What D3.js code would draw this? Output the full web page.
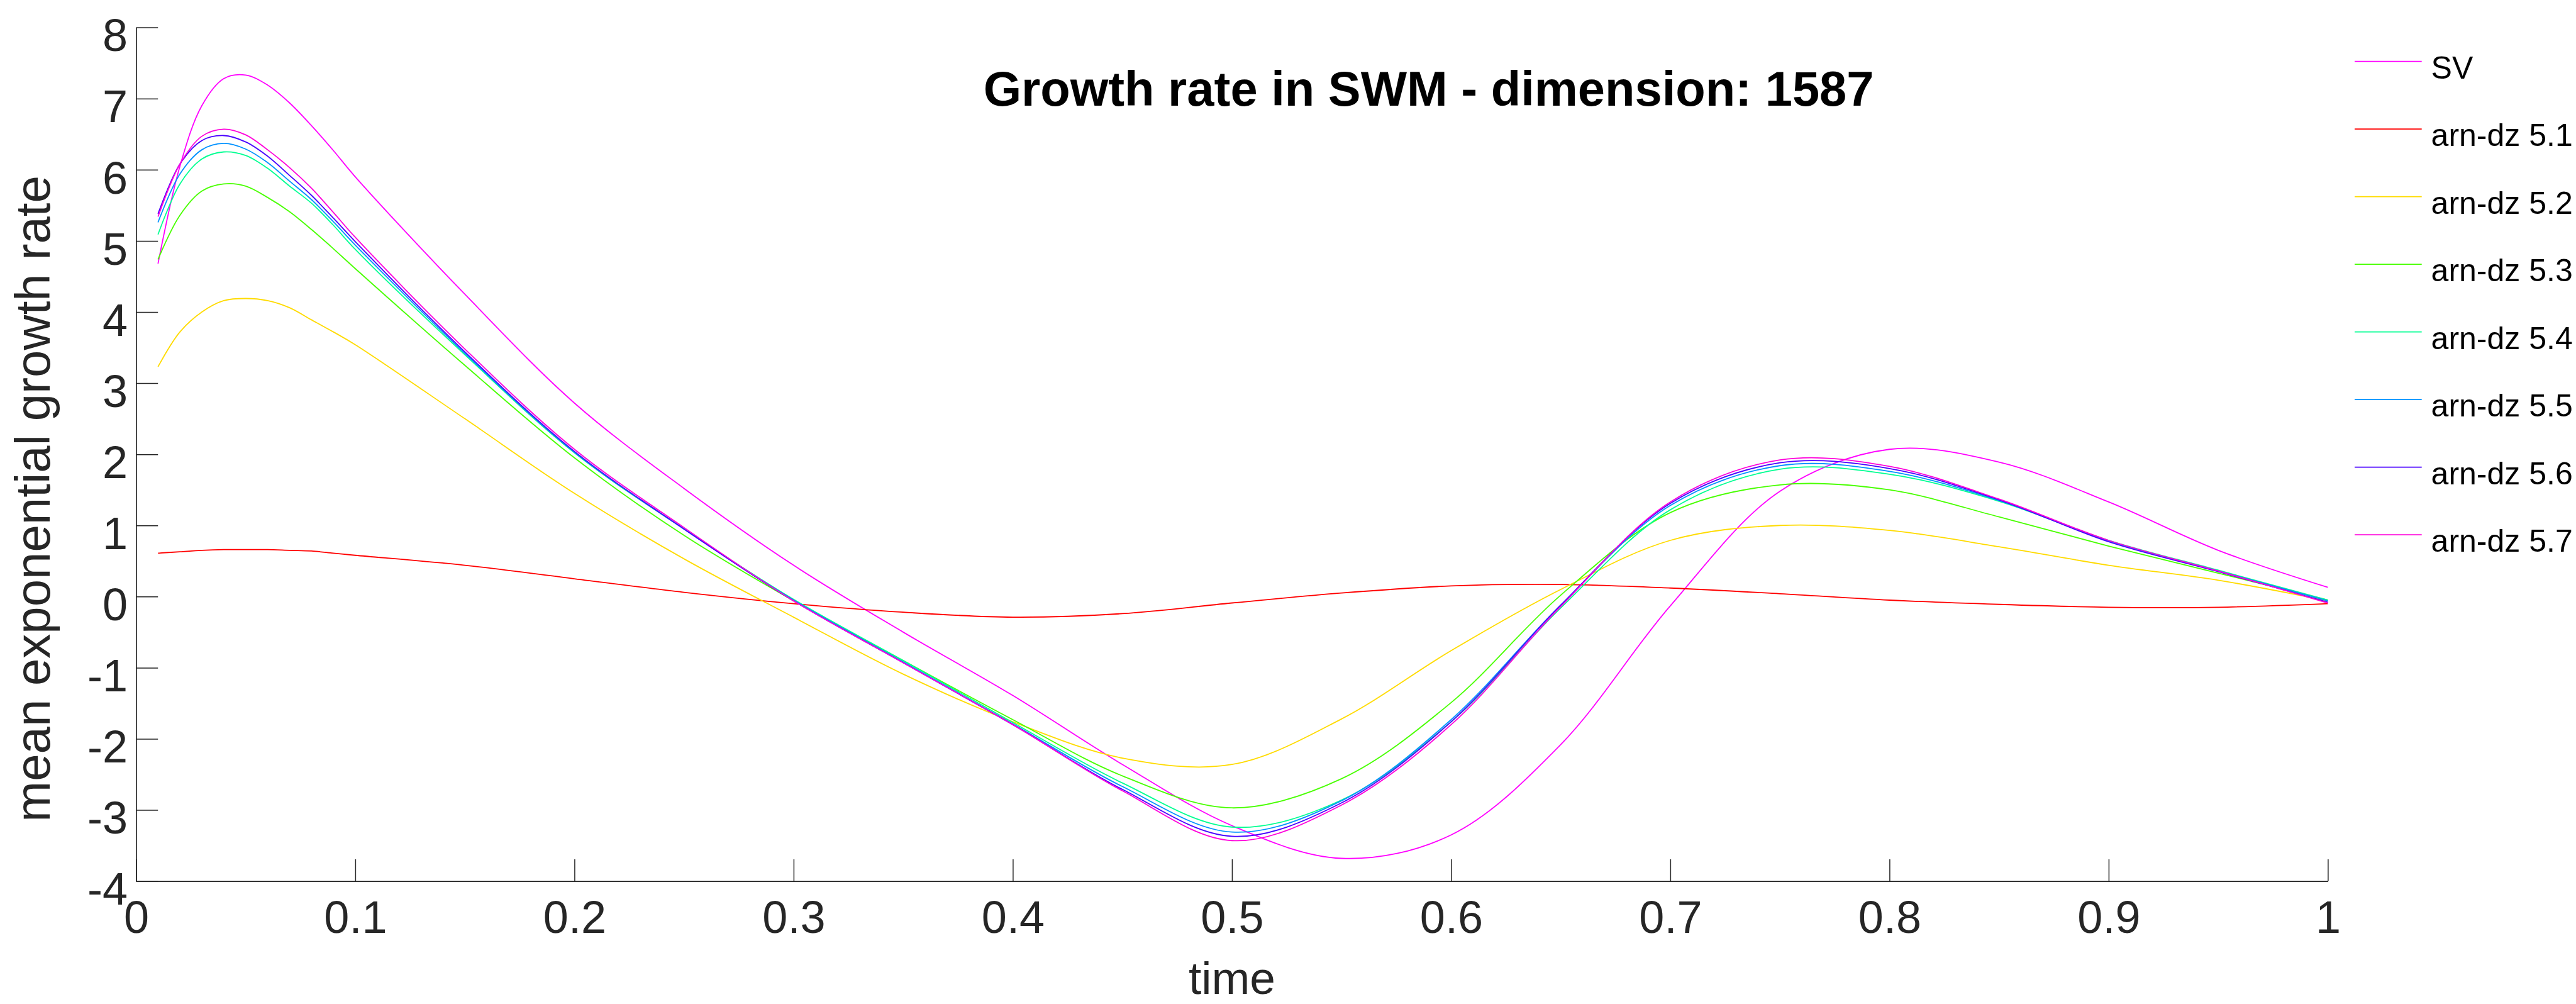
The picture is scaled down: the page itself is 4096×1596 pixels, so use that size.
<!DOCTYPE html>
<html>
<head>
<meta charset="utf-8">
<script src="https://cdn.jsdelivr.net/npm/d3@7"></script>
<style>
  body { margin: 0; background: #fff; }
  text { font-family: "Liberation Sans", Arial, Helvetica, sans-serif; }
</style>
</head>
<body>
<svg id="chart" width="4096" height="1596"></svg>
<script>
// values
var time = [0.01, 0.02, 0.03, 0.04, 0.05, 0.06, 0.07, 0.08, 0.09, 0.10,
            0.15, 0.20, 0.25, 0.30, 0.35, 0.40, 0.45, 0.50, 0.55, 0.60,
            0.65, 0.70, 0.75, 0.80, 0.85, 0.90, 0.95, 1.00];

var sv   = [4.68, 6.05, 6.90, 7.28, 7.33, 7.19, 6.94, 6.62, 6.27, 5.90, 4.25, 2.72, 1.52, 0.44, -0.50, -1.39, -2.36, -3.22, -3.68, -3.35, -2.08, -0.13, 1.48, 2.07, 1.89, 1.33, 0.65, 0.13];
var dz51 = [0.61, 0.63, 0.65, 0.66, 0.66, 0.66, 0.65, 0.64, 0.61, 0.58, 0.44, 0.25, 0.06, -0.10, -0.22, -0.29, -0.24, -0.09, 0.05, 0.15, 0.17, 0.12, 0.04, -0.05, -0.11, -0.15, -0.15, -0.10];
var dz52 = [3.23, 3.72, 4.00, 4.16, 4.19, 4.16, 4.06, 3.89, 3.72, 3.54, 2.50, 1.45, 0.53, -0.29, -1.09, -1.76, -2.27, -2.36, -1.72, -0.76, 0.10, 0.79, 1.00, 0.93, 0.70, 0.44, 0.23, -0.06];
var dz53 = [4.74, 5.36, 5.70, 5.80, 5.77, 5.61, 5.41, 5.16, 4.89, 4.61, 3.25, 1.95, 0.86, -0.06, -0.90, -1.73, -2.52, -2.97, -2.56, -1.49, 0.02, 1.18, 1.57, 1.50, 1.12, 0.71, 0.33, -0.05];
var dz54 = [5.09, 5.80, 6.15, 6.25, 6.20, 6.02, 5.77, 5.53, 5.22, 4.88, 3.40, 2.02, 0.95, -0.04, -0.90, -1.77, -2.62, -3.24, -2.86, -1.76, -0.16, 1.22, 1.79, 1.72, 1.34, 0.79, 0.37, -0.05];
var dz55 = [5.26, 5.94, 6.28, 6.37, 6.29, 6.10, 5.84, 5.58, 5.27, 4.94, 3.42, 2.03, 0.95, -0.05, -0.92, -1.79, -2.67, -3.31, -2.87, -1.73, -0.12, 1.28, 1.84, 1.76, 1.35, 0.78, 0.36, -0.06];
var dz56 = [5.38, 6.08, 6.41, 6.48, 6.39, 6.19, 5.92, 5.64, 5.32, 4.99, 3.44, 2.04, 0.95, -0.06, -0.93, -1.80, -2.71, -3.37, -2.90, -1.76, -0.12, 1.31, 1.88, 1.80, 1.36, 0.77, 0.35, -0.08];
var dz57 = [5.34, 6.08, 6.47, 6.57, 6.49, 6.28, 6.03, 5.74, 5.40, 5.05, 3.48, 2.07, 0.97, -0.06, -0.93, -1.80, -2.73, -3.43, -2.93, -1.80, -0.14, 1.33, 1.92, 1.83, 1.37, 0.79, 0.36, -0.09];

var seriesNames  = ["SV", "arn-dz 5.1", "arn-dz 5.2", "arn-dz 5.3", "arn-dz 5.4", "arn-dz 5.5", "arn-dz 5.6", "arn-dz 5.7"];
var seriesColors = ["#ff00ff", "#ff0000", "#ffdb00", "#49ff00", "#00ff92", "#0092ff", "#4900ff", "#ff00db"];
var seriesValues = [sv, dz51, dz52, dz53, dz54, dz55, dz56, dz57];

var xTicks = [0, 0.1, 0.2, 0.3, 0.4, 0.5, 0.6, 0.7, 0.8, 0.9, 1];
var xTickLabels = ["0", "0.1", "0.2", "0.3", "0.4", "0.5", "0.6", "0.7", "0.8", "0.9", "1"];
var yTicks = [-4, -3, -2, -1, 0, 1, 2, 3, 4, 5, 6, 7, 8];
var yTickLabels = ["-4", "-3", "-2", "-1", "0", "1", "2", "3", "4", "5", "6", "7", "8"];

var svg = d3.select("#chart"),
    margin = {top: 43.6, right: 394.6, bottom: 195.3, left: 216.4},
    width = +svg.attr("width") - margin.left - margin.right,
    height = +svg.attr("height") - margin.top - margin.bottom;

var x = d3.scaleLinear().domain([0, 1]).range([0, width]),
    y = d3.scaleLinear().domain([-4, 8]).range([height, 0]);

var graph = svg.append("g")
    .attr("transform", "translate(" + margin.left + "," + margin.top + ")");

var series = seriesNames.map(function(name, i) {
    return {
        name: name,
        color: seriesColors[i],
        points: time.map(function(t, j) { return {t: t, v: seriesValues[i][j]}; })
    };
});

var line = d3.line()
    .x(function(d) { return x(d.t); })
    .y(function(d) { return y(d.v); })
    .curve(d3.curveCatmullRom);

graph.selectAll(".series")
    .data(series)
    .enter().append("path")
    .attr("class", "series")
    .attr("fill", "none")
    .attr("stroke", function(d) { return d.color; })
    .attr("stroke-width", 1.8)
    .attr("d", function(d) { return line(d.points); });

// axes, ticks pointing inward like the original
var xAxis = graph.append("g")
    .attr("transform", "translate(0," + height + ")")
    .call(d3.axisBottom(x)
        .tickValues(xTicks)
        .tickFormat(function(d, i) { return xTickLabels[i]; })
        .tickSizeInner(-34.8)
        .tickSizeOuter(0)
        .tickPadding(31));

var yAxis = graph.append("g")
    .call(d3.axisLeft(y)
        .tickValues(yTicks)
        .tickFormat(function(d, i) { return yTickLabels[i]; })
        .tickSizeInner(-34.8)
        .tickSizeOuter(0)
        .tickPadding(13.4));

[xAxis, yAxis].forEach(function(ax) {
    ax.attr("font-size", 72)
      .attr("font-family", "Liberation Sans, Arial, Helvetica, sans-serif");
    ax.select(".domain").attr("stroke", "#262626").attr("stroke-width", 1.7);
    ax.selectAll(".tick line").attr("stroke", "#262626").attr("stroke-width", 1.5);
    ax.selectAll(".tick text").attr("fill", "#262626");
});
yAxis.selectAll(".tick text").attr("dy", "0.517em");

// axis labels
svg.append("text")
    .attr("x", margin.left + width / 2)
    .attr("y", 1580)
    .attr("text-anchor", "middle")
    .attr("font-size", 73)
    .attr("fill", "#262626")
    .text("time");

svg.append("text")
    .attr("transform", "translate(78.6,793) rotate(-90)")
    .attr("text-anchor", "middle")
    .attr("font-size", 78)
    .attr("fill", "#262626")
    .text("mean exponential growth rate");

// title
svg.append("text")
    .attr("x", 2271.6)
    .attr("y", 168.3)
    .attr("text-anchor", "middle")
    .attr("font-size", 77.7)
    .attr("font-weight", "bold")
    .attr("fill", "#000")
    .text("Growth rate in SWM - dimension: 1587");

// legend
var legend = svg.append("g");
var rows = legend.selectAll(".row")
    .data(series)
    .enter().append("g")
    .attr("class", "row")
    .attr("transform", function(d, i) { return "translate(0," + (97.6 + i * 107.5) + ")"; });

rows.append("line")
    .attr("x1", 3744)
    .attr("x2", 3850.7)
    .attr("stroke", function(d) { return d.color; })
    .attr("stroke-width", 1.8);

rows.append("text")
    .attr("x", 3865.6)
    .attr("y", 27)
    .attr("font-size", 50)
    .attr("fill", "#000")
    .text(function(d) { return d.name; });
</script>
</body>
</html>
